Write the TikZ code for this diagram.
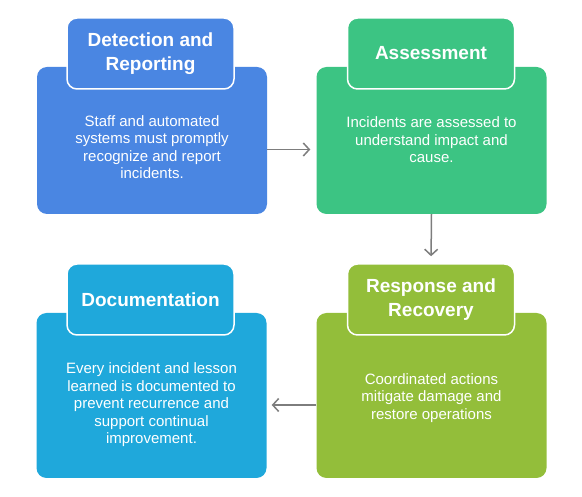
\documentclass[tikz,border=0pt]{standalone}
\usepackage{fontspec}
\setmainfont{Liberation Sans}
\usepackage{tikz}
\usetikzlibrary{positioning,arrows.meta,calc}
\definecolor{irBlue}{RGB}{74,134,226}
\definecolor{irGreen}{RGB}{60,196,131}
\definecolor{irLime}{RGB}{147,190,58}
\definecolor{irCyan}{RGB}{31,168,219}
\definecolor{irGray}{RGB}{125,125,125}
\tikzset{
    base/.style={align=center, text=white},
    card/.style={base, rectangle, rounded corners=10pt, minimum width=230pt, inner sep=0pt},
    tab/.style={base, rectangle, rounded corners=10pt, draw=white, line width=1.5pt,
                minimum width=167pt, minimum height=71pt, inner sep=2pt,
                font=\bfseries\fontsize{19}{23.5}\selectfont},
    body/.style={base, font=\fontsize{15}{17.5}\selectfont},
    flow/.style={-{Straight Barb[length=6pt,width=13pt]}, line width=1.5pt, color=irGray}
}

\begin{document}
\begin{tikzpicture}[x=1pt,y=-1pt]
  \useasboundingbox (0,0) rectangle (582,497);
  % cards
  \node[card, fill=irBlue, minimum height=147pt] (detect) at (152,140.5) {};
  \node[card, fill=irGreen, minimum height=147pt] (assess) at (431.5,140.5) {};
  \node[card, fill=irCyan, minimum height=165pt] (docu) at (151.5,395.5) {};
  \node[card, fill=irLime, minimum height=165pt] (respond) at (431.5,395.5) {};
  % tabs
  \node[tab, fill=irBlue] (detectT) at (150.5,53.5) {Detection and\\Reporting};
  \node[tab, fill=irGreen] (assessT) at (431,53.5) {Assessment};
  \node[tab, fill=irCyan] (docuT) at (150.5,299.5) {Documentation};
  \node[tab, fill=irLime] (respondT) at (431,299.5) {Response and\\Recovery};
  % texts
  \node[body] (detectB) at (152,147) {Staff and automated\\systems must promptly\\recognize and report\\incidents.};
  \node[body] (assessB) at (431.5,140) {Incidents are assessed to\\understand impact and\\cause.};
  \node[body] (docuB) at (151.5,405) {Every incident and lesson\\learned is documented to\\prevent recurrence and\\support continual\\improvement.};
  \node[body] (respondB) at (431.5,398) {Coordinated actions\\mitigate damage and\\restore operations};
  % arrows
  \draw[flow, shorten >=6pt] ([yshift=-9pt]detect.east) -- ([yshift=-9pt]assess.west);
  \draw[flow, shorten >=7pt] (assess.south) -- (respondT.north);
  \draw[flow, shorten >=5pt] ([yshift=-9.5pt]respond.west) -- ([yshift=-9.5pt]docu.east);
\end{tikzpicture}
\end{document}
